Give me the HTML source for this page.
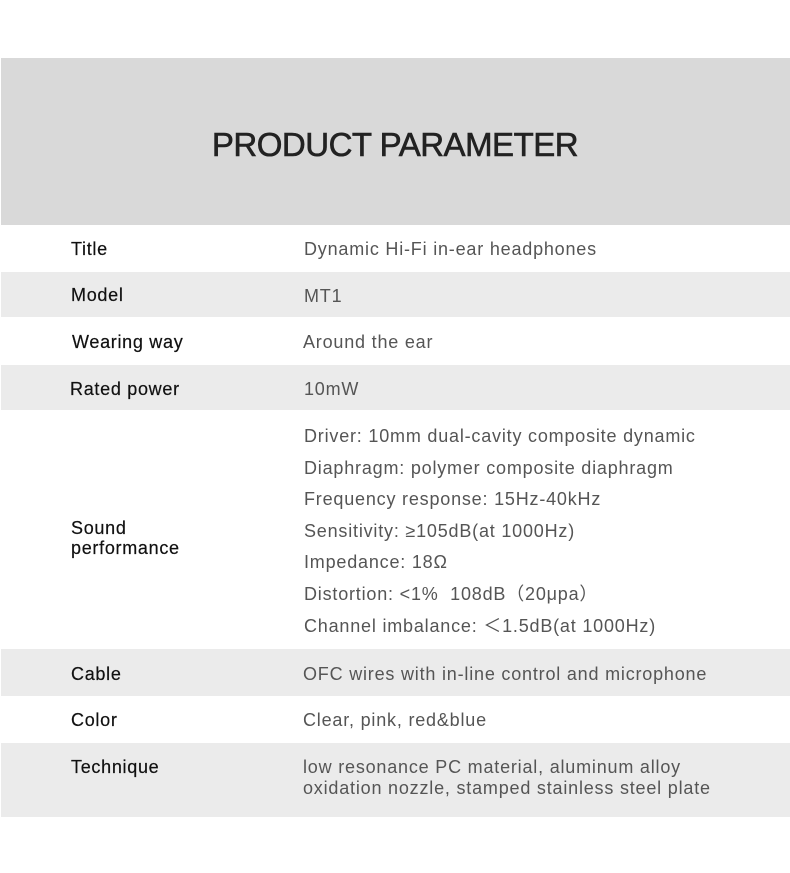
<!DOCTYPE html>
<html><head><meta charset="utf-8"><style>
*{margin:0;padding:0}
body{width:790px;height:873px;background:#fff;position:relative;font-family:"Liberation Sans","Noto Sans CJK SC",sans-serif;overflow:hidden}
.b{position:absolute;left:1px;width:789px}
.h{top:58px;height:167px;background:#d9d9d9}
.g{background:#ebebeb}
.t{position:absolute;white-space:nowrap}
.l{left:71px;font-size:18px;color:#111;letter-spacing:0.7px;-webkit-text-stroke:0.2px #111}
.v{left:304px;font-size:18px;color:#555;letter-spacing:0.8px}
h1{position:absolute;top:126px;left:0;width:790px;text-align:center;font-size:33px;font-weight:normal;color:#222;letter-spacing:-0.5px;-webkit-text-stroke:0.6px #222}
</style></head><body>
<div class="b h"></div>
<h1>PRODUCT PARAMETER</h1>
<div class="b g" style="top:272px;height:45px"></div>
<div class="b g" style="top:365px;height:45px"></div>
<div class="b g" style="top:649px;height:47px"></div>
<div class="b g" style="top:743px;height:74px"></div>

<div class="t l" style="top:239px">Title</div><div class="t v" style="top:239px">Dynamic Hi-Fi in-ear headphones</div>
<div class="t l" style="top:285px">Model</div><div class="t v" style="top:286px">MT1</div>
<div class="t l" style="top:332px;left:72px">Wearing way</div><div class="t v" style="top:332px;left:303px">Around the ear</div>
<div class="t l" style="top:379px;left:70px">Rated power</div><div class="t v" style="top:379px">10mW</div>
<div class="t l" style="top:518px;line-height:20px">Sound<br>performance</div>
<div class="t v" style="top:421px;line-height:31.6px">Driver: 10mm dual-cavity composite dynamic<br>Diaphragm: polymer composite diaphragm<br>Frequency response: 15Hz-40kHz<br>Sensitivity: ≥105dB(at 1000Hz)<br>Impedance: 18Ω<br>Distortion: &lt;1%&nbsp; 108dB（20μpa）<br>Channel imbalance: ＜1.5dB(at 1000Hz)</div>
<div class="t l" style="top:664px">Cable</div><div class="t v" style="top:664px;left:303px">OFC wires with in-line control and microphone</div>
<div class="t l" style="top:710px">Color</div><div class="t v" style="top:710px;left:303px">Clear, pink, red&amp;blue</div>
<div class="t l" style="top:757px">Technique</div>
<div class="t v" style="top:757px;left:303px;line-height:21px">low resonance PC material, aluminum alloy<br>oxidation nozzle, stamped stainless steel plate</div>
</body></html>
